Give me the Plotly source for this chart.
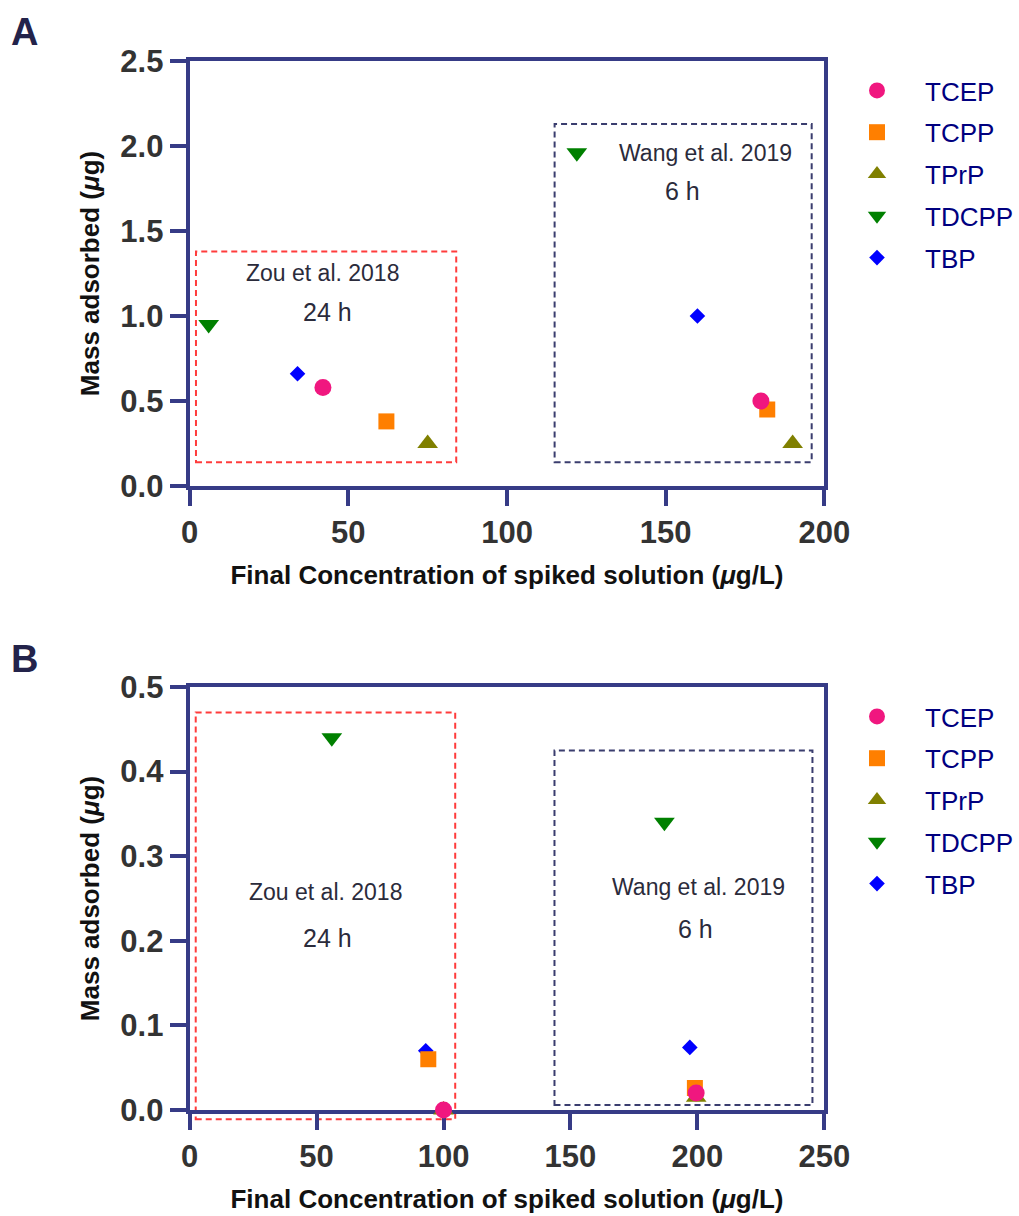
import plotly.graph_objects as go

# ---------------- data ----------------
compounds = ["TCEP", "TCPP", "TPrP", "TDCPP", "TBP"]
colors = ["#f0177f", "#ff7f00", "#808000", "#008000", "#0000ff"]
symbols = ["circle", "square", "triangle-up", "triangle-down", "diamond"]
sizes = [17, 16, 18, 18, 12]

# Panel A  (x: final concentration, y: mass adsorbed)
conc_A_zou = [42, 62, 75, 6, 34]
mass_A_zou = [0.58, 0.38, 0.25, 0.95, 0.66]
conc_A_wang = [180, 182, 190, 122, 160]
mass_A_wang = [0.50, 0.45, 0.25, 1.96, 1.00]

# Panel B
conc_B_zou = [100, 94, 100, 56, 93]
mass_B_zou = [0.0, 0.06, 0.0, 0.44, 0.07]
conc_B_wang = [199.5, 199, 199.5, 187, 197]
mass_B_wang = [0.02, 0.026, 0.015, 0.34, 0.074]

x_ticks_A = [0, 50, 100, 150, 200]
y_ticks_A = [0.0, 0.5, 1.0, 1.5, 2.0, 2.5]
x_ticks_B = [0, 50, 100, 150, 200, 250]
y_ticks_B = [0.0, 0.1, 0.2, 0.3, 0.4, 0.5]

x_title = "Final Concentration of spiked solution (<i>μ</i>g/L)"
y_title = "Mass adsorbed (<i>μ</i>g)"

# study boxes (x0, x1, y0, y1) in data units
zou_box_A = [2, 84, 0.14, 1.38]
wang_box_A = [115, 196, 0.14, 2.13]
zou_box_B = [2.4, 104.6, -0.011, 0.47]
wang_box_B = [143.7, 245.3, 0.006, 0.425]

# ---------------- layout constants ----------------
W, H = 1019, 1216
FONT = "Liberation Sans, Arial, sans-serif"
AXIS_COLOR = "#363b86"
TEXT_COLOR = "#2b2b3b"
xdom = [190 / W, 826 / W]
ydom_A = [1 - 486 / H, 1 - 61 / H]
ydom_B = [1 - 1110 / H, 1 - 687 / H]
rng_A = ([0, 200], [0, 2.5])
rng_B = ([0, 250], [0, 0.5])

fig = go.Figure()

draw_order = [4, 3, 2, 1, 0]  # TBP first, TCEP on top
for panel, (cz, mz, cw, mw, xa, ya, leg) in enumerate([
    (conc_A_zou, mass_A_zou, conc_A_wang, mass_A_wang, "x", "y", "legend"),
    (conc_B_zou, mass_B_zou, conc_B_wang, mass_B_wang, "x2", "y2", "legend2"),
]):
    for i in draw_order:
        fig.add_trace(go.Scatter(
            x=[cz[i], cw[i]], y=[mz[i], mw[i]],
            mode="markers", name=compounds[i],
            marker=dict(symbol=symbols[i], color=colors[i], size=sizes[i], line=dict(width=0)),
            xaxis=xa, yaxis=ya, legend=leg, legendrank=i + 1,
            legendgroup=f"{leg}_{compounds[i]}",
            cliponaxis=False,
        ))

axis_common = dict(
    showline=True, linewidth=4, linecolor=AXIS_COLOR, mirror=True,
    ticks="outside", ticklen=16, tickwidth=4, tickcolor=AXIS_COLOR,
    showgrid=False, zeroline=False, automargin=False,
    tickfont=dict(family=FONT, size=31, color="#333333", weight="bold"),
    layer="below traces",
)
title_font = dict(family=FONT, size=26, color="#111111", weight="bold")

fig.update_layout(
    width=W, height=H, margin=dict(l=0, r=0, t=0, b=0),
    paper_bgcolor="white", plot_bgcolor="white",
    showlegend=True,
    xaxis=dict(domain=xdom, range=rng_A[0], tickvals=x_ticks_A, anchor="y",
               title=dict(text=x_title, font=title_font, standoff=18), **axis_common),
    yaxis=dict(domain=ydom_A, range=rng_A[1], tickvals=y_ticks_A, tickformat=".1f", anchor="x",
               ticklabelstandoff=0,
               title=dict(text=y_title, font=title_font, standoff=14), **axis_common),
    xaxis2=dict(domain=xdom, range=rng_B[0], tickvals=x_ticks_B, anchor="y2",
                title=dict(text=x_title, font=title_font, standoff=18), **axis_common),
    yaxis2=dict(domain=ydom_B, range=rng_B[1], tickvals=y_ticks_B, tickformat=".1f", anchor="x2",
                ticklabelstandoff=0,
                title=dict(text=y_title, font=title_font, standoff=14), **axis_common),
    legend=dict(x=831 / W, y=1 - 67 / H, xanchor="left", yanchor="top",
                font=dict(family=FONT, size=26, color="#00007f"),
                itemwidth=86, tracegroupgap=5, bgcolor="rgba(0,0,0,0)"),
    legend2=dict(x=831 / W, y=1 - 693 / H, xanchor="left", yanchor="top",
                 font=dict(family=FONT, size=26, color="#00007f"),
                 itemwidth=86, tracegroupgap=5, bgcolor="rgba(0,0,0,0)"),
)


def to_dom(v, r):
    return (v - r[0]) / (r[1] - r[0])


shapes = []
for box, rng, xr, yr, col in [
    (zou_box_A, rng_A, "x", "y", "#ff3c3c"),
    (wang_box_A, rng_A, "x", "y", "#3a3d6e"),
    (zou_box_B, rng_B, "x2", "y2", "#ff3c3c"),
    (wang_box_B, rng_B, "x2", "y2", "#3a3d6e"),
]:
    shapes.append(dict(
        type="rect", xref=f"{xr} domain", yref=f"{yr} domain",
        x0=to_dom(box[0], rng[0]), x1=to_dom(box[1], rng[0]),
        y0=to_dom(box[2], rng[1]), y1=to_dom(box[3], rng[1]),
        line=dict(color=col, width=2, dash="6px,4px"), fillcolor="rgba(0,0,0,0)", layer="below",
    ))
fig.update_layout(shapes=shapes)

ann = []
labels = [
    ("Zou et al. 2018", 41.8, 1.253, "x", "y", 23),
    ("24 h", 43.4, 1.024, "x", "y", 25),
    ("Wang et al. 2019", 162.5, 1.959, "x", "y", 23),
    ("6 h", 155.3, 1.735, "x", "y", 25),
    ("Zou et al. 2018", 53.5, 0.258, "x2", "y2", 23),
    ("24 h", 54.2, 0.203, "x2", "y2", 25),
    ("Wang et al. 2019", 200.5, 0.264, "x2", "y2", 23),
    ("6 h", 199.2, 0.214, "x2", "y2", 25),
]
for t, x, y, xr, yr, fs in labels:
    ann.append(dict(text=t, x=x, y=y, xref=xr, yref=yr, showarrow=False,
                    font=dict(family=FONT, size=fs, color=TEXT_COLOR)))
for letter, py in [("A", 32), ("B", 659)]:
    ann.append(dict(text=letter, x=25 / W, y=1 - py / H, xref="paper", yref="paper",
                    showarrow=False, xanchor="center", yanchor="middle",
                    font=dict(family=FONT, size=38, color="#23234a", weight="bold")))
fig.update_layout(annotations=ann)

fig.write_html("out.html")
